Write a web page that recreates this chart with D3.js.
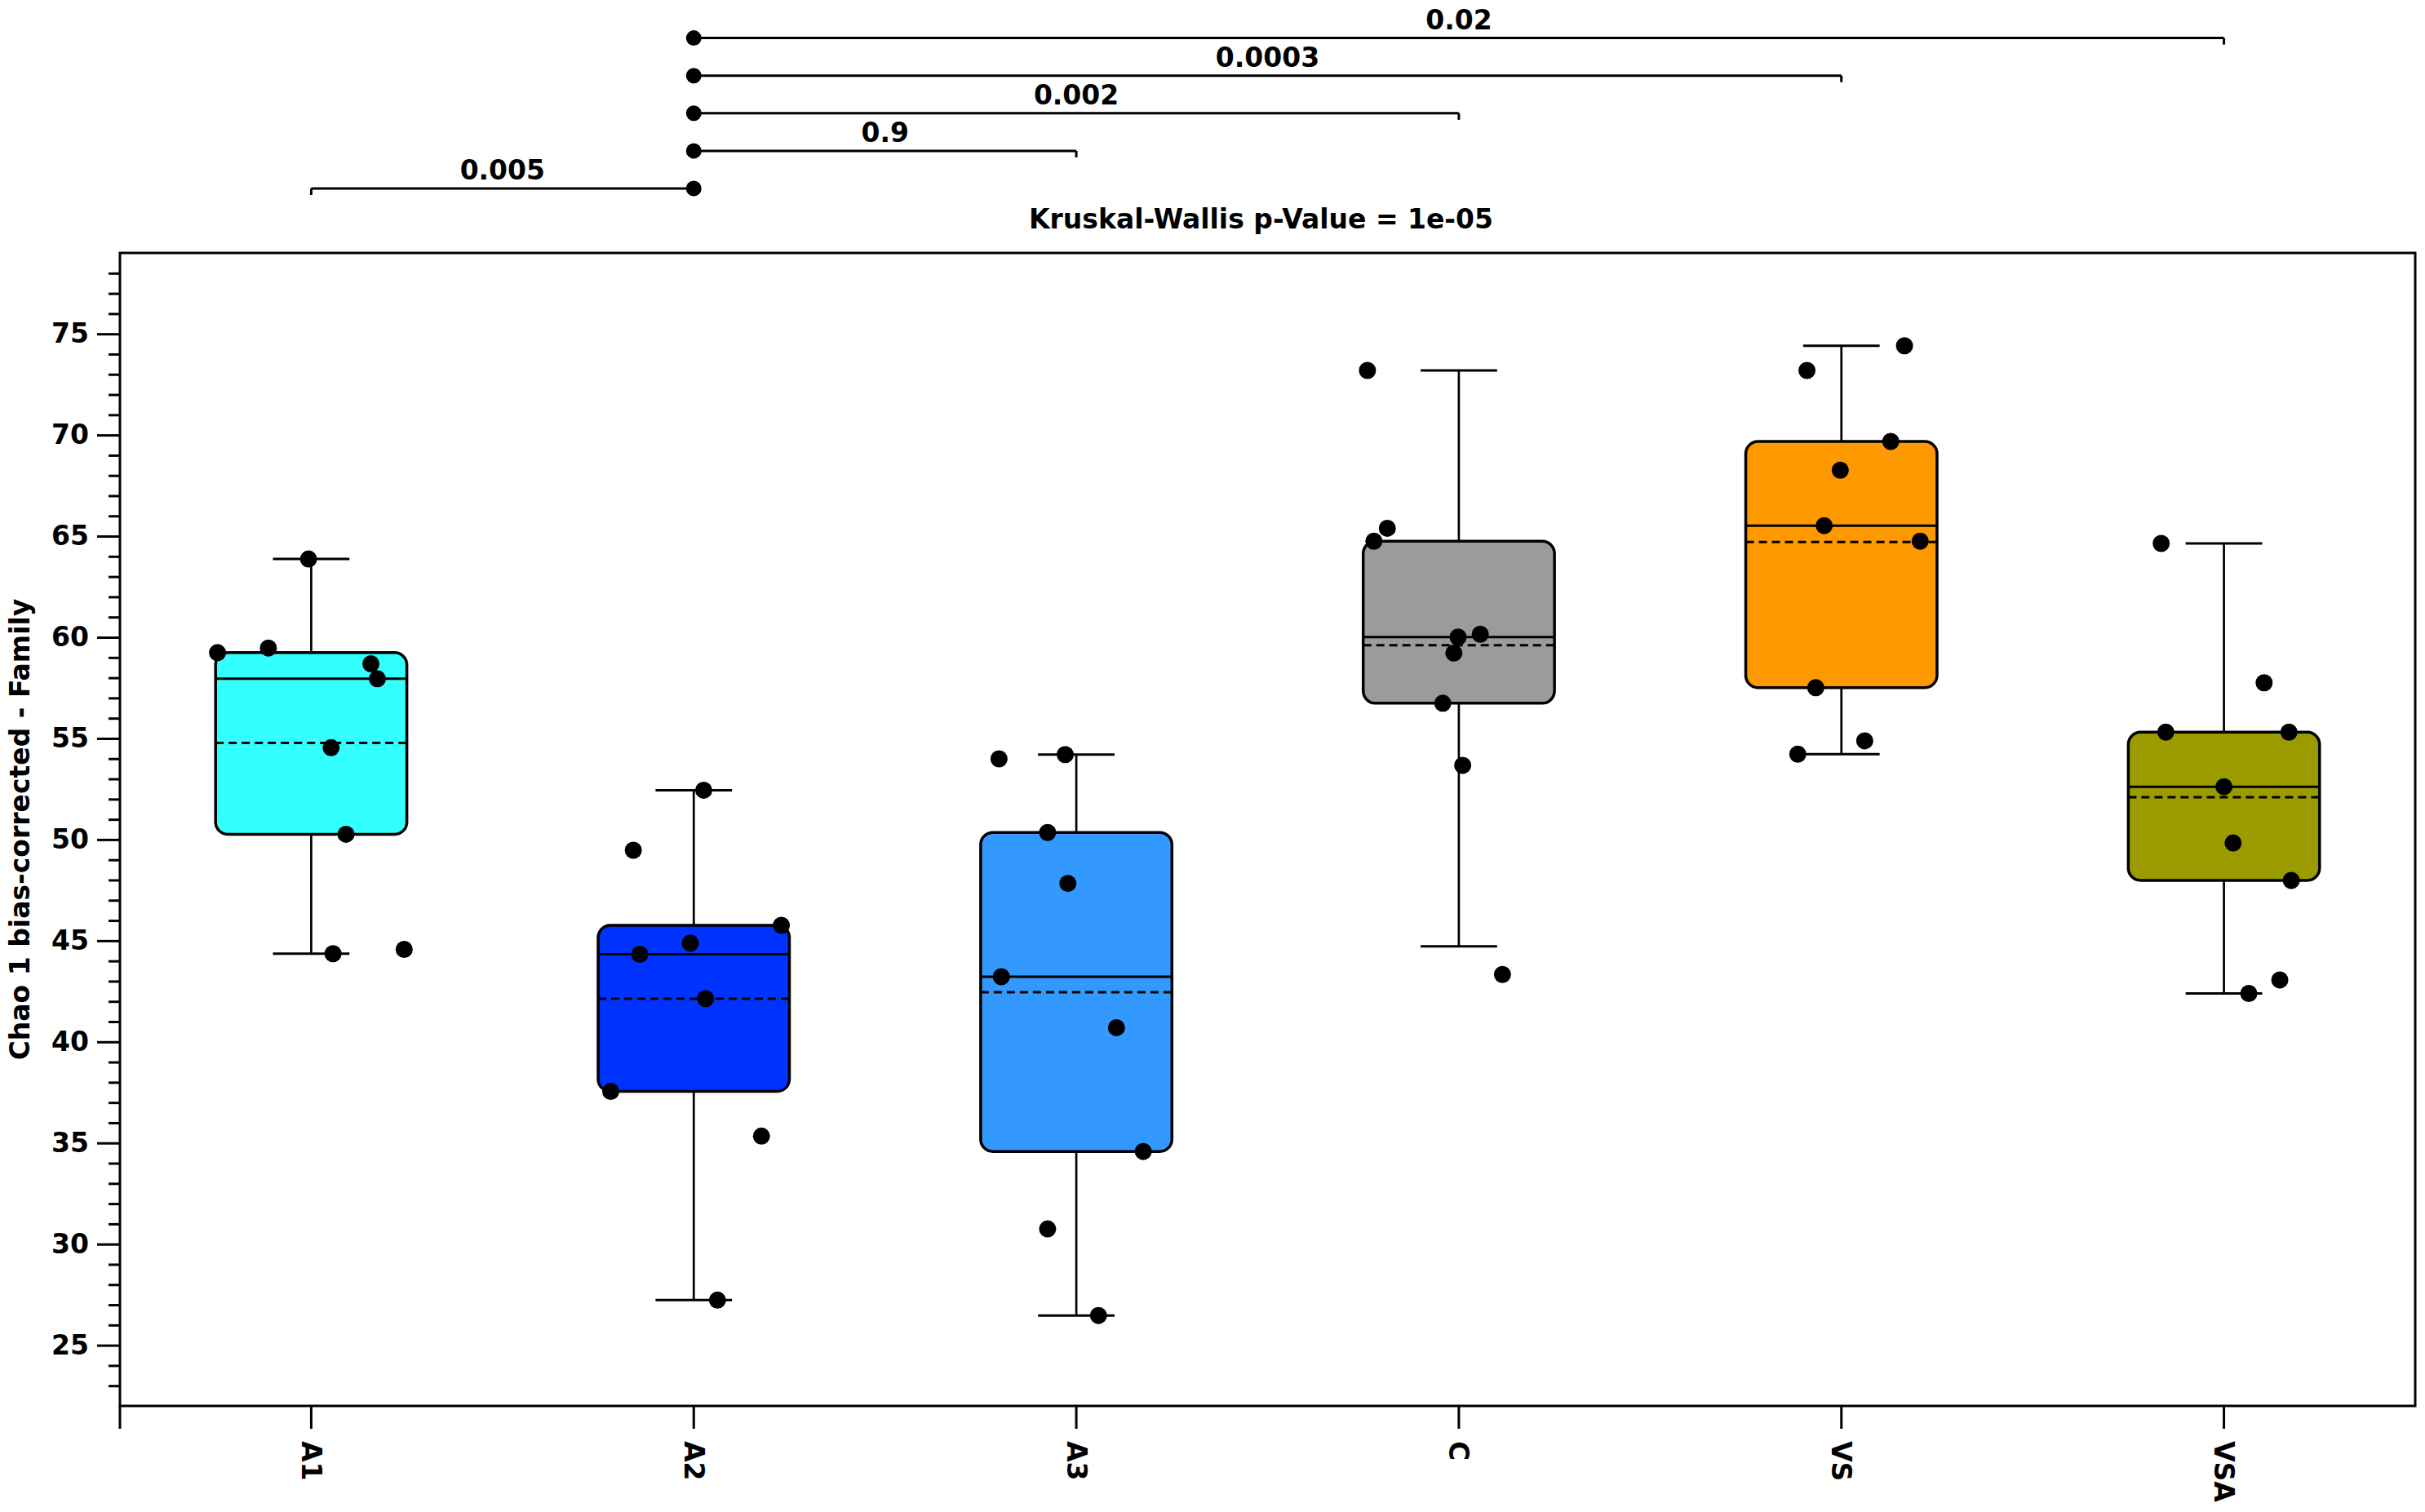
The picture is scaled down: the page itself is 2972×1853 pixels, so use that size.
<!DOCTYPE html>
<html lang="en">
<head>
<meta charset="utf-8">
<script src="https://d3js.org/d3.v7.min.js"></script>
<style>
  body { margin: 0; background: #fff; }
  svg { display: block; }
  text { font-family: "DejaVu Sans", sans-serif; font-weight: bold; }
</style>
</head>
<body>
<svg id="chart" width="2972" height="1853"></svg>
<script>
// groups and fill colours
const groups = ["A1", "A2", "A3", "C", "VS", "VSA"];
const colors = ["#33ffff", "#0033ff", "#3399ff", "#9b9b9b", "#ff9900", "#9b9b00"];

// Chao 1 values per sample
const valA1  = [59.24, 59.47, 63.87, 58.69, 57.95, 54.54, 50.26, 44.36, 44.57];
const valA2  = [49.47, 52.44, 45.76, 44.88, 44.33, 42.14, 37.55, 35.34, 27.23];
const valA3  = [53.99, 54.20, 50.35, 47.83, 43.22, 40.70, 34.58, 30.75, 26.47];
const valC   = [73.19, 65.39, 64.75, 60.01, 60.15, 59.22, 56.74, 53.67, 43.33];
const valVS  = [73.19, 74.41, 69.68, 68.26, 65.52, 64.75, 57.51, 54.88, 54.22];
const valVSA = [64.64, 57.75, 55.31, 55.31, 52.61, 49.83, 47.98, 43.06, 42.39];

// horizontal jitter of each sample, in category widths
const jitA1  = [-0.245, -0.112, -0.007, 0.156, 0.173, 0.052, 0.091, 0.057, 0.243];
const jitA2  = [-0.158, 0.026, 0.229, -0.009, -0.141, 0.031, -0.217, 0.177, 0.062];
const jitA3  = [-0.202, -0.029, -0.075, -0.022, -0.196, 0.105, 0.175, -0.075, 0.058];
const jitC   = [-0.239, -0.187, -0.222, -0.002, 0.056, -0.013, -0.042, 0.010, 0.114];
const jitVS  = [-0.090, 0.165, 0.129, -0.003, -0.045, 0.206, -0.067, 0.061, -0.114];
const jitVSA = [-0.164, 0.105, -0.152, 0.170, 0.000, 0.024, 0.176, 0.146, 0.065];

// pairwise tests against A2
const pairA = ["A1", "A2", "A2", "A2", "A2"];
const pairB = ["A2", "A3", "C", "VS", "VSA"];
const pairP = ["0.005", "0.9", "0.002", "0.0003", "0.02"];

const title = "Kruskal-Wallis p-Value = 1e-05";
const yLabel = "Chao 1 bias-corrected - Family";
const yMajor = [25, 30, 35, 40, 45, 50, 55, 60, 65, 70, 75];

const values = [valA1, valA2, valA3, valC, valVS, valVSA];
const jitter = [jitA1, jitA2, jitA3, jitC, jitVS, jitVSA];

const mLeft = 147, mRight = 2960, mTop = 310, mBottom = 1723;
const fs = 33;

const svg = d3.select("#chart");

const x = d3.scaleBand().domain(groups).range([mLeft, mRight]).padding(0);
const y = d3.scaleLinear().domain([22, 79]).range([mBottom, mTop]);
const bw = x.bandwidth();
const cx = g => x(g) + bw / 2;

// box statistics
const stats = groups.map((g, i) => {
  const s = values[i].slice().sort(d3.ascending);
  const q1 = d3.quantile(s, 0.25), q3 = d3.quantile(s, 0.75);
  const iqr = q3 - q1;
  return {
    g: g, color: colors[i],
    q1: q1, q3: q3,
    med: d3.median(s), mean: d3.mean(s),
    lo: Math.max(s[0], q1 - 1.5 * iqr),
    hi: Math.min(s[s.length - 1], q3 + 1.5 * iqr)
  };
});

// y axis: major and minor ticks
const yMinor = d3.range(23, 79).filter(v => v % 5 !== 0);
svg.append("g")
  .attr("transform", `translate(${mLeft},0)`)
  .call(d3.axisLeft(y).tickValues(yMinor).tickSize(14).tickFormat(""))
  .call(g => g.select(".domain").remove())
  .call(g => g.selectAll("line").attr("stroke-width", 3));

svg.append("g")
  .attr("transform", `translate(${mLeft},0)`)
  .call(d3.axisLeft(y).tickValues(yMajor).tickSize(28).tickPadding(10))
  .call(g => g.select(".domain").remove())
  .call(g => g.selectAll("line").attr("stroke-width", 3))
  .call(g => g.selectAll("text")
    .attr("font-size", fs).attr("font-family", "DejaVu Sans")
    .attr("font-weight", "bold").attr("fill", "#000"));

// x axis with rotated labels
const xAxis = svg.append("g")
  .attr("transform", `translate(0,${mBottom})`)
  .call(d3.axisBottom(x).tickSize(28))
  .call(g => g.select(".domain").remove())
  .call(g => g.selectAll("line").attr("stroke-width", 3))
  .call(g => g.selectAll("text")
    .attr("font-size", fs).attr("font-family", "DejaVu Sans")
    .attr("font-weight", "bold").attr("fill", "#000")
    .attr("transform", "rotate(90)")
    .attr("x", 43).attr("y", 0).attr("dy", "0.35em")
    .attr("text-anchor", "start"));

// extra tick at the left edge of the x axis
xAxis.append("line")
  .attr("x1", x.range()[0]).attr("x2", x.range()[0])
  .attr("y1", 0).attr("y2", 28)
  .attr("stroke", "#000").attr("stroke-width", 3);

// whiskers and caps
const box = svg.append("g");
stats.forEach(s => {
  const c = cx(s.g);
  box.append("line").attr("x1", c).attr("x2", c)
    .attr("y1", y(s.q3)).attr("y2", y(s.hi))
    .attr("stroke", "#000").attr("stroke-width", 2.7);
  box.append("line").attr("x1", c).attr("x2", c)
    .attr("y1", y(s.q1)).attr("y2", y(s.lo))
    .attr("stroke", "#000").attr("stroke-width", 2.7);
  [s.hi, s.lo].forEach(v => {
    box.append("line")
      .attr("x1", c - bw * 0.1).attr("x2", c + bw * 0.1)
      .attr("y1", y(v)).attr("y2", y(v))
      .attr("stroke", "#000").attr("stroke-width", 3);
  });
});

// boxes
box.selectAll("rect.box")
  .data(stats)
  .enter()
  .append("rect")
    .attr("class", "box")
    .attr("x", d => x(d.g) + bw * 0.25)
    .attr("width", bw * 0.5)
    .attr("y", d => y(d.q3))
    .attr("height", d => y(d.q1) - y(d.q3))
    .attr("rx", 15).attr("ry", 15)
    .attr("fill", d => d.color)
    .attr("stroke", "#000")
    .attr("stroke-width", 3.5);

// median (solid) and mean (dashed)
box.selectAll("line.med")
  .data(stats)
  .enter()
  .append("line")
    .attr("class", "med")
    .attr("x1", d => x(d.g) + bw * 0.25).attr("x2", d => x(d.g) + bw * 0.75)
    .attr("y1", d => y(d.med)).attr("y2", d => y(d.med))
    .attr("stroke", "#000").attr("stroke-width", 3);

box.selectAll("line.mean")
  .data(stats)
  .enter()
  .append("line")
    .attr("class", "mean")
    .attr("x1", d => x(d.g) + bw * 0.25).attr("x2", d => x(d.g) + bw * 0.75)
    .attr("y1", d => y(d.mean)).attr("y2", d => y(d.mean))
    .attr("stroke", "#000").attr("stroke-width", 3)
    .attr("stroke-dasharray", "10,6");

// samples
const pts = [];
groups.forEach((g, i) => values[i].forEach((v, j) => pts.push({ g: g, v: v, j: jitter[i][j] })));
svg.append("g")
  .selectAll("circle")
  .data(pts)
  .enter()
  .append("circle")
    .attr("cx", d => cx(d.g) + d.j * bw)
    .attr("cy", d => y(d.v))
    .attr("r", 10.5)
    .attr("fill", "#000");

// frame
svg.append("rect")
  .attr("x", mLeft).attr("y", mTop)
  .attr("width", mRight - mLeft).attr("height", mBottom - mTop)
  .attr("fill", "none").attr("stroke", "#000").attr("stroke-width", 3);

// title
svg.append("text")
  .attr("x", (mLeft + mRight) / 2 - 8).attr("y", 280)
  .attr("text-anchor", "middle")
  .attr("font-size", fs)
  .text(title);

// y label
svg.append("text")
  .attr("transform", `translate(36,${(mTop + mBottom) / 2}) rotate(-90)`)
  .attr("text-anchor", "middle")
  .attr("font-size", fs)
  .text(yLabel);

// significance brackets, stacked upward
const br = svg.append("g");
const ref = "A2";
pairP.forEach((p, i) => {
  const ly = 231 - i * 46.1;
  const xa = cx(pairA[i]), xb = cx(pairB[i]);
  const other = pairA[i] === ref ? xb : xa;
  br.append("line")
    .attr("x1", xa).attr("x2", xb).attr("y1", ly).attr("y2", ly)
    .attr("stroke", "#000").attr("stroke-width", 3);
  br.append("line")
    .attr("x1", other).attr("x2", other).attr("y1", ly).attr("y2", ly + 8)
    .attr("stroke", "#000").attr("stroke-width", 3);
  br.append("circle")
    .attr("cx", cx(ref)).attr("cy", ly).attr("r", 9.5).attr("fill", "#000");
  br.append("text")
    .attr("x", (xa + xb) / 2).attr("y", ly - 11)
    .attr("text-anchor", "middle")
    .attr("font-size", fs)
    .text(p);
});
</script>
</body>
</html>
